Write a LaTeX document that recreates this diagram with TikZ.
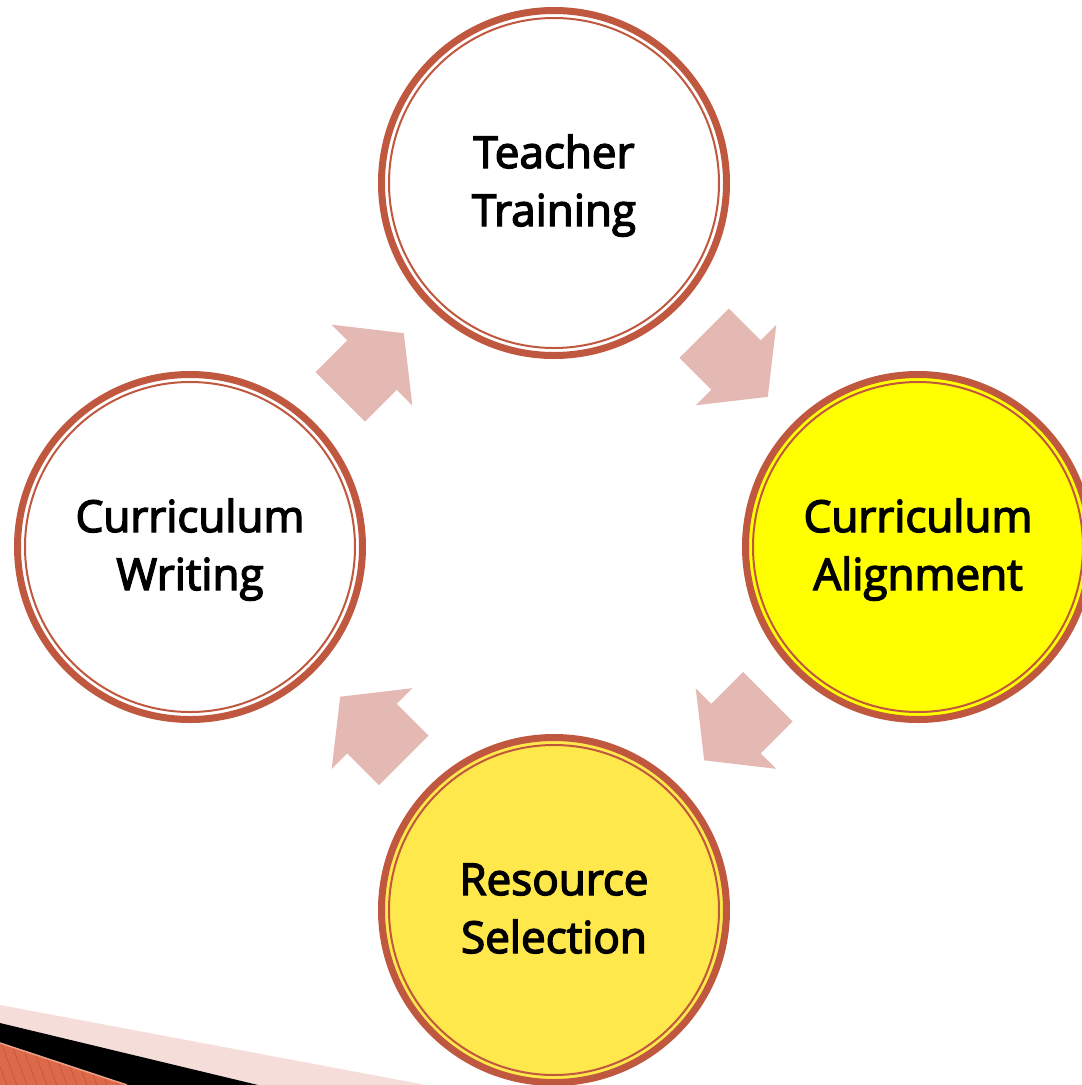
\documentclass[tikz,border=0pt]{standalone}
\usepackage{fontspec}
\setmainfont{Open Sans}
\newfontfamily\lblfont{Open Sans}[FakeBold=3.2]
\usetikzlibrary{calc}
\definecolor{ringc}{HTML}{C0583F}
\definecolor{arrowc}{HTML}{E5B9B3}
\definecolor{yellowA}{HTML}{FFFF00}
\definecolor{yellowB}{HTML}{FFE84B}
\definecolor{bandpink}{HTML}{F5DEDA}
\definecolor{bandorange}{HTML}{DC6A4A}
\definecolor{stripec}{HTML}{CB5839}
\definecolor{edgec}{HTML}{EC9F88}
\tikzset{
  ring/.style={circle, draw=ringc, line width=7pt, minimum size=345pt, inner sep=0pt},
  thinring/.style={draw=ringc, line width=2pt},
  lbl/.style={inner sep=0pt, anchor=base, font=\lblfont\fontsize{44}{58}\selectfont},
  blockarrow/.style={fill=arrowc}
}
\newcommand{\mkarrow}[3]{%
  \fill[blockarrow, shift={($(#1)!0.5!(#2)$)}, rotate=#3]
    (-45,-35) -- (0,-35) -- (0,-57) -- (45,0) -- (0,57) -- (0,35) -- (-45,35) -- cycle;}
\newcommand{\twolines}[2]{\renewcommand{\arraystretch}{1}\setlength{\tabcolsep}{0pt}\begin{tabular}[t]{c}#1\\#2\end{tabular}}
\begin{document}
\begin{tikzpicture}[x=1pt, y=-1pt]
\useasboundingbox (0,0) rectangle (1082,1085);
\clip (0,0) rectangle (1082,1085);
\fill[white] (0,0) rectangle (1082,1085);

% decorative bands, bottom left
\fill[bandpink] (0,1005) -- (426,1085) -- (0,1085) -- cycle;
\fill[black] (0,1023) -- (258,1085) -- (0,1085) -- cycle;
\begin{scope}
  \clip (0,1043) -- (127,1085) -- (0,1085) -- cycle;
  \fill[bandorange] (0,1040) rectangle (130,1085);
  \foreach \x in {-30,-20,...,130} {
    \draw[stripec, line width=0.8pt] (\x,1040) -- (\x+17,1085);
  }
\end{scope}
\draw[edgec, line width=1.5pt] (0,1043) -- (127,1085);

% circles
\node[ring, fill=white]   (tt) at (554,183) {};
\node[ring, fill=white]   (cw) at (190,547) {};
\node[ring, fill=yellowA] (ca) at (918,547) {};
\node[ring, fill=yellowB] (rs) at (554,910) {};
\foreach \n in {tt,cw,ca,rs} { \draw[thinring] (\n) circle (165); }

% block arrows between circles
\mkarrow{cw}{tt}{45}
\mkarrow{tt}{ca}{-45}
\mkarrow{ca}{rs}{-135}
\mkarrow{rs}{cw}{135}

% labels
\node[lbl] (ttl) at ($(tt)+(0,-15)$) {\twolines{Teacher}{Training}};
\node[lbl] (cwl) at ($(cw)+(0,-15)$) {\twolines{Curriculum}{Writing}};
\node[lbl] (cal) at ($(ca)+(0,-15)$) {\twolines{Curriculum}{Alignment}};
\node[lbl] (rsl) at ($(rs)+(0,-15)$) {\twolines{Resource}{Selection}};
\end{tikzpicture}
\end{document}
